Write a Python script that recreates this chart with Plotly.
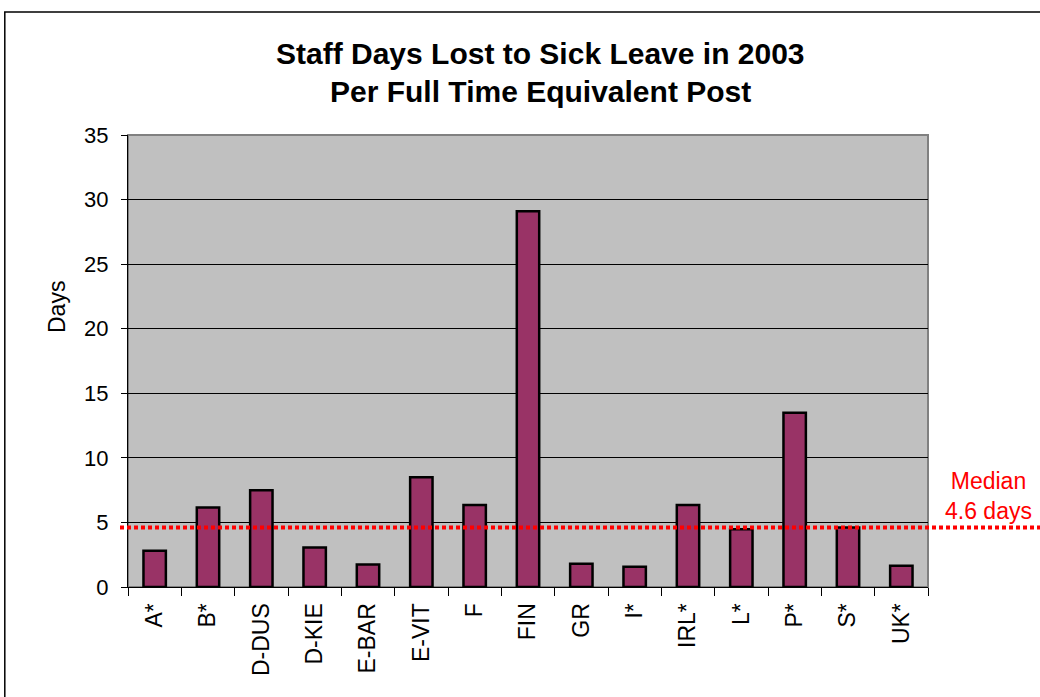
import plotly.graph_objects as go

# Sick leave per full time equivalent post, 2003
sites = ["A*", "B*", "D-DUS", "D-KIE", "E-BAR", "E-VIT", "F", "FIN",
         "GR", "I*", "IRL*", "L*", "P*", "S*", "UK*"]
days_lost = [2.8, 6.15, 7.5, 3.05, 1.75, 8.5, 6.35, 29.1,
             1.8, 1.57, 6.35, 4.47, 13.5, 4.6, 1.65]
median_days = 4.6
y_ticks = [0, 5, 10, 15, 20, 25, 30, 35]
title_lines = ["Staff Days Lost to Sick Leave in 2003", "Per Full Time Equivalent Post"]

FONT = "Liberation Sans, Arial, sans-serif"

fig = go.Figure()
fig.add_trace(go.Bar(
    x=sites, y=days_lost, width=0.42,
    marker=dict(color="#993366", line=dict(color="black", width=2.5)),
    showlegend=False,
))

# median reference line running past the plot edge
fig.add_shape(type="line", xref="paper", yref="y",
              x0=-0.01, x1=1.15, y0=median_days, y1=median_days,
              line=dict(color="#FF0000", width=4, dash="4px,3px"))

fig.add_annotation(xref="paper", yref="paper", x=1.075, y=(587 - 496) / 452,
                   text="Median<br>4.6 days", showarrow=False,
                   font=dict(family=FONT, size=23, color="#FF0000"),
                   xanchor="center", yanchor="middle", align="center")

# outer chart frame
fig.add_shape(type="rect", xref="paper", yref="paper",
              x0=-0.154, x1=1.3, y0=-0.4, y1=1.272,
              line=dict(color="black", width=1.5), layer="below")

# two-line bold title
for line, ypix in zip(title_lines, [53, 91]):
    fig.add_annotation(xref="paper", yref="paper", x=(540 - 128) / 800,
                       y=(587 - ypix) / 452, text=f"<b>{line}</b>",
                       showarrow=False, xanchor="center", yanchor="middle",
                       font=dict(family=FONT, size=30, color="black"))

# y-axis title
fig.add_annotation(xref="paper", yref="paper", x=(57 - 128) / 800,
                   y=(587 - 307) / 452, text="Days", textangle=-90,
                   showarrow=False, xanchor="center", yanchor="middle",
                   font=dict(family=FONT, size=23, color="black"))

fig.update_layout(
    width=1040, height=697,
    margin=dict(l=128, r=112, t=135, b=110),
    paper_bgcolor="white", plot_bgcolor="#C0C0C0",
    font=dict(family=FONT, size=22, color="black"),
    bargap=0.58,
)
fig.update_xaxes(
    type="category", tickangle=-90, tickson="boundaries",
    ticks="outside", ticklen=8, tickcolor="black", tickwidth=1,
    showline=True, linecolor="black", linewidth=1, mirror=False,
    showgrid=False, tickfont=dict(size=23), ticklabelstandoff=6,
)
fig.update_yaxes(
    range=[0, 35], tickvals=y_ticks, ticks="outside", ticklen=6,
    tickcolor="black", showline=True, linecolor="black", linewidth=1,
    showgrid=True, gridcolor="black", gridwidth=1, zeroline=False,
    tickfont=dict(size=22), ticklabelstandoff=8,
)
# gray border around the plot area
fig.add_shape(type="rect", xref="paper", yref="paper", x0=0, x1=1, y0=0, y1=1,
              line=dict(color="#808080", width=2), layer="below")

fig.write_html("out.html")
